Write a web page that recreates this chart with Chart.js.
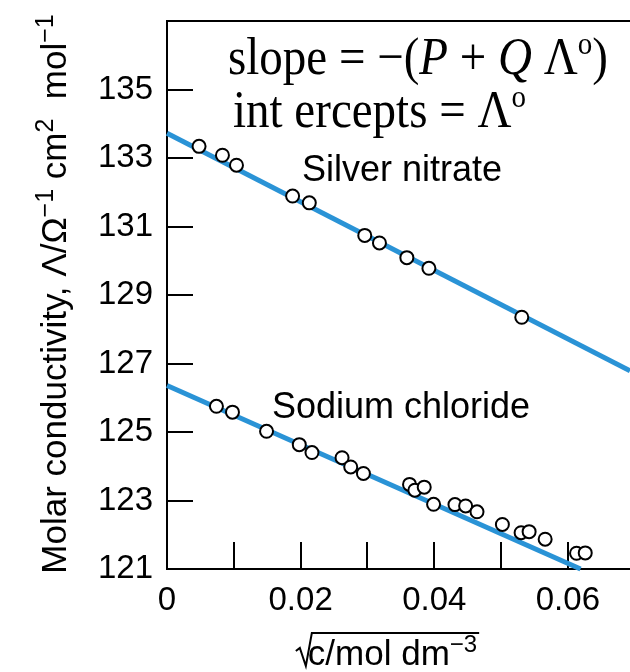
<!DOCTYPE html>
<html>
<head>
<meta charset="utf-8">
<script src="https://cdn.jsdelivr.net/npm/chart.js@4.4.1/dist/chart.umd.min.js"></script>
<style>
  body { margin: 0; background: #ffffff; }
  #wrap { width: 630px; height: 672px; }
</style>
</head>
<body>
<div id="wrap"><canvas id="cond" width="630" height="672"></canvas></div>
<script>
// silver nitrate measurements
var agX = [0.0048, 0.0083, 0.0104, 0.0188, 0.0213, 0.0296, 0.0318, 0.0359, 0.0392, 0.0531];
var agY = [133.34, 133.08, 132.79, 131.89, 131.69, 130.74, 130.52, 130.09, 129.78, 128.35];

// sodium chloride measurements
var naX = [0.0074, 0.0098, 0.0149, 0.0198, 0.0217, 0.0262, 0.0275, 0.0294, 0.0363, 0.0371, 0.0385,
           0.0399, 0.0431, 0.0447, 0.0464, 0.0502, 0.0530, 0.0542, 0.0566, 0.0613, 0.0626];
var naY = [125.75, 125.58, 125.02, 124.63, 124.40, 124.25, 123.98, 123.79, 123.47, 123.30, 123.39,
           122.89, 122.88, 122.84, 122.67, 122.30, 122.06, 122.09, 121.87, 121.46, 121.47];

// fitted straight lines
var agFitX = [0, 0.0693];
var agFitY = [133.72, 126.79];
var naFitX = [0, 0.0619];
var naFitY = [126.36, 121.0];

var xTickVals = [0, 0.02, 0.04, 0.06];
var xMarkVals = [0.01, 0.02, 0.03, 0.04, 0.05, 0.06];
var yTickVals = [121, 123, 125, 127, 129, 131, 133, 135];

var lineBlue = '#2a93d6';
var sans = '"Liberation Sans", Arial, sans-serif';
var serif = '"Liberation Serif", "Times New Roman", serif';

function toPoints(xs, ys) {
    let pts = [];
    for (let i = 0; i < xs.length; i++) {
        pts.push({x: xs[i], y: ys[i]});
    };
    return pts;
};

// draws a run of [text, font, raise] pieces starting at x, returns end x
function drawRun(ctx, parts, x, y) {
    for (let i = 0; i < parts.length; i++) {
        ctx.font = parts[i][1];
        ctx.fillText(parts[i][0], x, y - (parts[i][2] || 0));
        x += ctx.measureText(parts[i][0]).width;
    };
    return x;
};

function runWidth(ctx, parts) {
    let w = 0;
    for (let i = 0; i < parts.length; i++) {
        ctx.font = parts[i][1];
        w += ctx.measureText(parts[i][0]).width;
    };
    return w;
};

function noPad(s) {
    s.paddingLeft = 0;
    s.paddingRight = 0;
    s.paddingTop = 0;
    s.paddingBottom = 0;
};

var frame = {
    id: 'frame',
    beforeDatasetsDraw(chart) {
        const ctx = chart.ctx, a = chart.chartArea;
        const xs = chart.scales.x, ys = chart.scales.y;
        ctx.save();
        ctx.strokeStyle = '#000';
        ctx.lineWidth = 2;
        ctx.beginPath();
        ctx.moveTo(a.left, a.top);
        ctx.lineTo(a.right, a.top);
        yTickVals.forEach(function (v) {
            let py = Math.round(ys.getPixelForValue(v));
            ctx.moveTo(a.left, py);
            ctx.lineTo(a.left + 26, py);
        });
        xMarkVals.forEach(function (v) {
            let px = Math.round(xs.getPixelForValue(v));
            ctx.moveTo(px, a.bottom);
            ctx.lineTo(px, a.bottom - 27);
        });
        ctx.stroke();
        ctx.restore();
    },
    afterDraw(chart) {
        const ctx = chart.ctx, a = chart.chartArea;
        const xs = chart.scales.x, ys = chart.scales.y;
        ctx.save();
        ctx.fillStyle = '#000';

        // series labels
        ctx.font = '36px ' + sans;
        ctx.textBaseline = 'middle';
        ctx.fillText('Silver nitrate', xs.getPixelForValue(0.0202), ys.getPixelForValue(132.62));
        ctx.fillText('Sodium chloride', xs.getPixelForValue(0.0157), ys.getPixelForValue(125.69));
        ctx.textBaseline = 'alphabetic';

        // equation box text, a little taller than wide like the original
        let fN = '47px ' + serif, fI = 'italic 47px ' + serif, fS = '29px ' + serif;
        ctx.save();
        ctx.translate(a.left + 61, 74);
        ctx.scale(1, 1.12);
        drawRun(ctx, [['slope = \u2212(', fN], ['P', fI], [' + ', fN], ['Q', fI],
                      [' \u039B', fN], ['o', fS, 18], [')', fN]], 0, 0);
        ctx.restore();
        ctx.save();
        ctx.translate(a.left + 66, 127);
        ctx.scale(1, 1.12);
        drawRun(ctx, [['int ercepts = \u039B', fN], ['o', fS, 18]], 0, 0);
        ctx.restore();

        // y axis title, rotated
        let yParts = [['Molar conductivity, \u039B/\u03A9', '35px ' + sans], ['\u22121', '25px ' + sans, 13],
                      [' cm', '35px ' + sans], ['2', '25px ' + sans, 13],
                      ['  mol', '35px ' + sans], ['\u22121', '25px ' + sans, 13]];
        let yw = runWidth(ctx, yParts);
        ctx.save();
        ctx.translate(66, 294);
        ctx.rotate(-Math.PI / 2);
        drawRun(ctx, yParts, -yw / 2, 0);
        ctx.restore();

        // x axis title with radical sign
        let xParts = [['c/mol dm', '35px ' + sans], ['\u22123', '24px ' + sans, 13]];
        let xw = runWidth(ctx, xParts);
        let x0 = (a.left + a.right) / 2 - xw / 2 - 6;
        let xe = drawRun(ctx, xParts, x0, 665);
        ctx.strokeStyle = '#000';
        ctx.lineWidth = 2;
        ctx.beginPath();
        ctx.moveTo(x0 - 12, 651);
        ctx.lineTo(x0 - 8, 648);
        ctx.lineTo(x0 - 2, 666);
        ctx.lineTo(x0 + 4, 633);
        ctx.lineTo(xe + 2, 633);
        ctx.stroke();
        ctx.restore();
    }
};

var ctx = document.getElementById('cond');

var cChart = new Chart(ctx, {
    type: 'scatter',
    data: {
        datasets: [{
            data: toPoints(agX, agY),
            pointRadius: 6.5,
            pointBorderWidth: 2,
            pointBorderColor: '#000',
            pointBackgroundColor: '#fff'
        }, {
            data: toPoints(naX, naY),
            pointRadius: 6.5,
            pointBorderWidth: 2,
            pointBorderColor: '#000',
            pointBackgroundColor: '#fff'
        }, {
            data: toPoints(agFitX, agFitY),
            showLine: true,
            pointRadius: 0,
            borderColor: lineBlue,
            borderWidth: 5
        }, {
            data: toPoints(naFitX, naFitY),
            showLine: true,
            pointRadius: 0,
            borderColor: lineBlue,
            borderWidth: 5
        }]
    },
    options: {
        responsive: false,
        animation: false,
        clip: false,
        layout: {
            autoPadding: false,
            padding: {top: 21, right: 0, left: 0, bottom: 0}
        },
        scales: {
            x: {
                type: 'linear',
                min: 0,
                max: 0.0693,
                afterBuildTicks: function (s) {
                    s.ticks = xTickVals.map(function (v) { return {value: v}; });
                },
                afterFit: function (s) { s.height = 103; noPad(s); },
                grid: { display: false, drawTicks: false },
                border: { display: true, color: '#000', width: 2 },
                ticks: {
                    color: '#000',
                    padding: 12,
                    maxRotation: 0,
                    font: { family: sans, size: 33 },
                    callback: function (v) { return v === 0 ? '0' : v.toFixed(2); }
                }
            },
            y: {
                min: 121,
                max: 137,
                afterBuildTicks: function (s) {
                    s.ticks = yTickVals.map(function (v) { return {value: v}; });
                },
                afterFit: function (s) { s.width = 167; noPad(s); },
                grid: { display: false, drawTicks: false },
                border: { display: true, color: '#000', width: 2 },
                ticks: {
                    color: '#000',
                    padding: 14,
                    font: { family: sans, size: 33 }
                }
            }
        },
        plugins: {
            legend: { display: false },
            tooltip: { enabled: false }
        }
    },
    plugins: [frame]
});
</script>
</body>
</html>
